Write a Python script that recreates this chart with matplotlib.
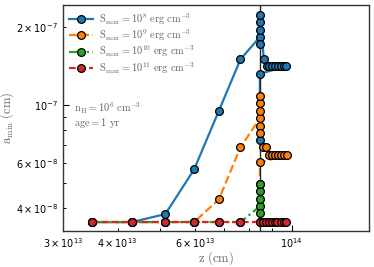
import matplotlib
matplotlib.use("Agg")
import matplotlib.pyplot as plt
import numpy as np

plt.rcParams['mathtext.fontset'] = 'cm'
plt.rcParams['font.family'] = ['DejaVu Sans']

# z in units of 1e13 cm, a_min in units of 1e-8 cm
z_blue = [3.49, 4.31, 5.14, 5.98, 6.81, 7.63, 8.45, 8.45, 8.45, 8.45, 8.45, 8.63,
          8.75, 8.88, 9.02, 9.16, 9.30, 9.44, 9.58, 9.72, 8.45, 8.45]
a_blue = [3.54, 3.54, 3.80, 5.65, 9.5, 15.0, 18.3, 17.2, 19.5, 20.9, 22.3, 15.0,
          14.1, 14.1, 14.1, 14.1, 14.1, 14.1, 14.1, 14.1, 13.2, 7.33]

z_orange = [3.49, 4.31, 5.14, 5.98, 6.81, 7.63, 8.45, 8.45, 8.45, 8.45, 8.45, 8.45,
            8.57, 8.74, 8.87, 9.01, 9.15, 9.29, 9.43, 9.58, 9.74, 8.45, 8.45]
a_orange = [3.54, 3.54, 3.54, 3.54, 4.33, 6.87, 8.88, 9.51, 10.15, 10.86, 8.32, 7.77,
            6.87, 6.87, 6.41, 6.41, 6.41, 6.41, 6.41, 6.41, 6.41, 6.01, 4.98]

z_green = [3.49, 4.31, 5.14, 5.98, 6.81, 7.63, 8.45, 8.45, 8.45, 8.45, 8.45, 8.45]
a_green = [3.54, 3.54, 3.54, 3.54, 3.54, 3.54, 4.07, 4.36, 4.66, 4.98, 3.82, 3.54]

z_red = [3.49, 4.31, 5.14, 5.98, 6.81, 7.63, 8.45, 8.58, 8.71, 8.85, 8.99, 9.13,
         9.27, 9.42, 9.57, 9.72]
a_red = [3.54] * 16

z_crit = 8.45
labels = [r'$\rm S_{max} = 10^{8}\ erg\ cm^{-3}$',
          r'$\rm S_{max} = 10^{9}\ erg\ cm^{-3}$',
          r'$\rm S_{max} = 10^{10}\ erg\ cm^{-3}$',
          r'$\rm S_{max} = 10^{11}\ erg\ cm^{-3}$']
colors = ['#1f77b4', '#ff7f0e', '#2ca02c', '#d62728']
styles = ['-', '--', '-.', (0, (3, 1.5))]

series = [(z_blue, a_blue), (z_orange, a_orange), (z_green, a_green), (z_red, a_red)]

fig = plt.figure(figsize=(3.74, 2.67), dpi=100)
ax = fig.add_axes([0.1684, 0.1348, 0.8182, 0.8465])

gray = '0.4'
handles = []
for i, ((z, a), c, ls, lab) in enumerate(zip(series, colors, styles, labels)):
    z = np.array(z) * 1e13
    a = np.array(a) * 1e-8
    ax.plot(z, a, color=c, ls=ls, lw=1.6, zorder=2 + i * 0.01)
    ax.plot(z, a, color=c, ls='none', marker='o', ms=5.6,
            mec='k', mew=0.9, zorder=4 + i * 0.01)
    handles.append(plt.Line2D([], [], color=c, ls=ls, lw=1.6, marker='o', ms=5.6,
                              mec='k', mew=0.9, label=lab))

ax.axvline(z_crit * 1e13, color='0.15', lw=1.0, zorder=3)

ax.set_xscale('log')
ax.set_yscale('log')
ax.set_xlim(3e13, 1.5e14)
ax.set_ylim(3.27e-8, 2.43e-7)

ax.tick_params(which='both', direction='in', labelsize=7, top=False, right=False)
ax.tick_params(which='major', length=4, width=0.8)
ax.tick_params(which='minor', length=2.5, width=0.7)
for s in ax.spines.values():
    s.set_color('0.2')
    s.set_linewidth(1.0)

ax.set_xlabel(r'$\rm z\ (cm)$', fontsize=9, color=gray, labelpad=0)
ax.set_ylabel(r'$\rm a_{min}\ (cm)$', fontsize=9, color=gray, labelpad=0)

leg = ax.legend(handles=handles, loc='upper left', frameon=False, fontsize=7.5,
                handlelength=2.3, labelspacing=0.05, borderaxespad=0.2,
                handletextpad=0.6)
for t in leg.get_texts():
    t.set_color(gray)

ax.text(0.035, 0.544, r'$\rm n_{H} = 10^{6}\ cm^{-3}$', transform=ax.transAxes,
        fontsize=7.5, color=gray, va='center')
ax.text(0.035, 0.478, r'$\rm age = 1\ yr$', transform=ax.transAxes,
        fontsize=7.5, color=gray, va='center')

fig.savefig('out.png', dpi=100)
